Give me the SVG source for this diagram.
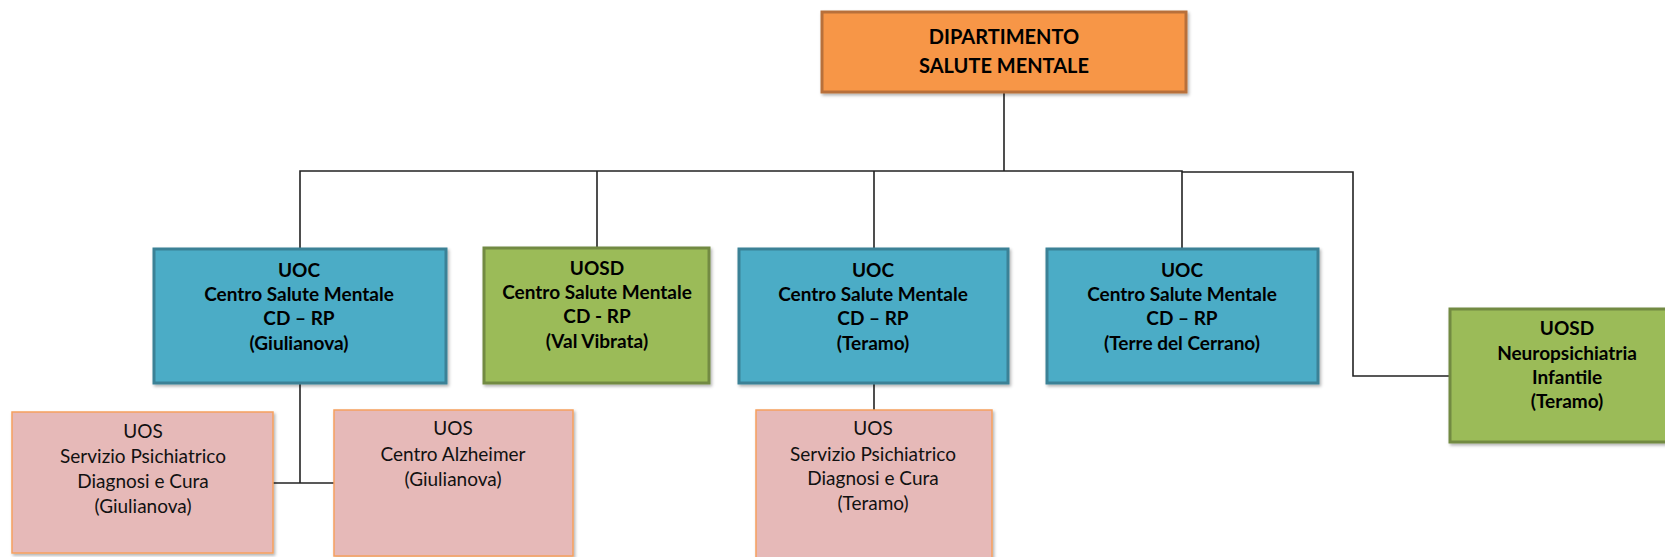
<svg xmlns="http://www.w3.org/2000/svg" width="1665" height="557" viewBox="0 0 1665 557">
<defs>
<filter id="sh" x="-5%" y="-5%" width="112%" height="115%">
<feDropShadow dx="1.5" dy="2" stdDeviation="1.5" flood-color="#000" flood-opacity="0.3"/>
</filter>
<style>
.orange{fill:#F79646;stroke:#B8703A;stroke-width:3}
.blue{fill:#4BACC6;stroke:#3A8196;stroke-width:3}
.green{fill:#9BBB59;stroke:#728A42;stroke-width:3}
.pink{fill:#E6B9B8;stroke:#F6A05E;stroke-width:1.5}
.b{font-family:Lato,"Liberation Sans",sans-serif;font-weight:bold;font-size:19px;fill:#000;text-anchor:middle}
.t{font-family:Lato,"Liberation Sans",sans-serif;font-weight:bold;font-size:20px;fill:#000;text-anchor:middle}
.r{font-family:Lato,"Liberation Sans",sans-serif;font-size:19px;fill:#111;text-anchor:middle}
.c{fill:none;stroke:#222;stroke-width:1.6}
</style>
</defs>
<rect width="1665" height="557" fill="#fff"/>
<g id="connectors">
<path class="c" d="M1004,92 V171"/>
<path class="c" d="M300,249 V171 H1182 V249"/>
<path class="c" d="M597,171 V247"/>
<path class="c" d="M874,171 V249"/>
<path class="c" d="M1182,172 H1353 V376 H1450"/>
<path class="c" d="M300,383 V483"/>
<path class="c" d="M273,483 H334"/>
<path class="c" d="M874,383 V410"/>
</g>
<g id="dipartimento">
<rect class="orange" x="822" y="12" width="364" height="80" filter="url(#sh)"/>
<text class="t" x="1004" y="44">DIPARTIMENTO</text>
<text class="t" x="1004" y="73">SALUTE MENTALE</text>
</g>
<g id="uoc-giulianova">
<rect class="blue" x="154" y="249" width="292" height="134" filter="url(#sh)"/>
<text class="b" x="299" y="277">UOC</text>
<text class="b" x="299" y="301">Centro Salute Mentale</text>
<text class="b" x="299" y="325">CD – RP</text>
<text class="b" x="299" y="350">(Giulianova)</text>
</g>
<g id="uosd-valvibrata">
<rect class="green" x="484" y="248" width="225" height="135" filter="url(#sh)"/>
<text class="b" x="597" y="275">UOSD</text>
<text class="b" x="597" y="299">Centro Salute Mentale</text>
<text class="b" x="597" y="323">CD - RP</text>
<text class="b" x="597" y="348">(Val Vibrata)</text>
</g>
<g id="uoc-teramo">
<rect class="blue" x="739" y="249" width="269" height="134" filter="url(#sh)"/>
<text class="b" x="873" y="277">UOC</text>
<text class="b" x="873" y="301">Centro Salute Mentale</text>
<text class="b" x="873" y="325">CD – RP</text>
<text class="b" x="873" y="350">(Teramo)</text>
</g>
<g id="uoc-cerrano">
<rect class="blue" x="1047" y="249" width="271" height="134" filter="url(#sh)"/>
<text class="b" x="1182" y="277">UOC</text>
<text class="b" x="1182" y="301">Centro Salute Mentale</text>
<text class="b" x="1182" y="325">CD – RP</text>
<text class="b" x="1182" y="350">(Terre del Cerrano)</text>
</g>
<g id="uosd-npi">
<rect class="green" x="1450" y="309" width="240" height="133" filter="url(#sh)"/>
<text class="b" x="1567" y="335">UOSD</text>
<text class="b" x="1567" y="360">Neuropsichiatria</text>
<text class="b" x="1567" y="384">Infantile</text>
<text class="b" x="1567" y="408">(Teramo)</text>
</g>
<g id="uos-spdc-giulianova">
<rect class="pink" x="12" y="412" width="261" height="141" filter="url(#sh)"/>
<text class="r" x="143" y="438">UOS</text>
<text class="r" x="143" y="463">Servizio Psichiatrico</text>
<text class="r" x="143" y="488">Diagnosi e Cura</text>
<text class="r" x="143" y="513">(Giulianova)</text>
</g>
<g id="uos-alzheimer">
<rect class="pink" x="334" y="410" width="239" height="146" filter="url(#sh)"/>
<text class="r" x="453" y="435">UOS</text>
<text class="r" x="453" y="461">Centro Alzheimer</text>
<text class="r" x="453" y="486">(Giulianova)</text>
</g>
<g id="uos-spdc-teramo">
<rect class="pink" x="756" y="410" width="236" height="160" filter="url(#sh)"/>
<text class="r" x="873" y="435">UOS</text>
<text class="r" x="873" y="461">Servizio Psichiatrico</text>
<text class="r" x="873" y="485">Diagnosi e Cura</text>
<text class="r" x="873" y="510">(Teramo)</text>
</g>
</svg>
